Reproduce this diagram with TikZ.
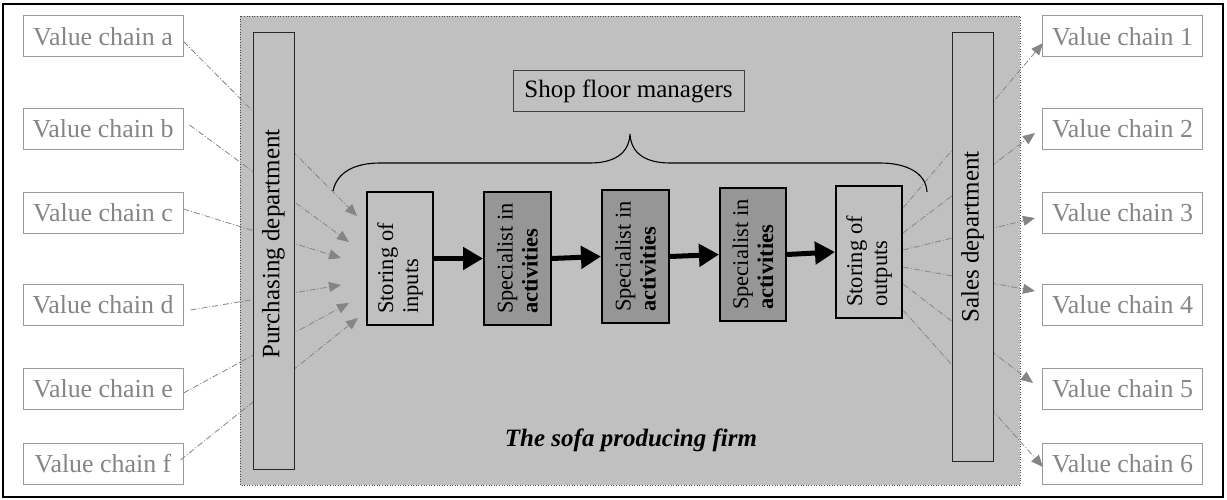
\documentclass[tikz,border=0pt]{standalone}
\usepackage{fontspec}
\setmainfont{Liberation Serif}
\usetikzlibrary{arrows.meta,calc}
\definecolor{firmbg}{HTML}{C0C0C0}
\definecolor{specfill}{HTML}{969696}
\definecolor{vcgray}{HTML}{858585}
\definecolor{vcborder}{HTML}{9A9A9A}
\begin{document}
\begin{tikzpicture}[x=1pt,y=-1pt,
  vc/.style={draw=vcborder, line width=1pt, fill=white, text=vcgray, minimum width=160pt, minimum height=41pt, inner sep=0pt, font=\fontsize{25.9}{30}\selectfont},
  deptbox/.style={draw=black!85, fill=firmbg, line width=1pt, inner sep=0pt},
  depttext/.style={rotate=90, inner sep=0pt, font=\fontsize{25}{30}\selectfont},
  stepbox/.style={draw=black, line width=2pt, inner sep=0pt, fill=firmbg},
  specbox/.style={stepbox, fill=specfill},
  boxtext/.style={rotate=90, anchor=west, align=left, inner sep=0pt, font=\fontsize{22.5}{25}\selectfont},
  link/.style={draw=vcgray, line width=0.8pt, dash pattern=on 6pt off 2pt on 1pt off 2pt, -{Triangle[length=12pt,width=10pt]}},
  flow/.style={line width=5pt, -{Triangle[length=20pt,width=22pt]}}
]
\useasboundingbox (0,0) rectangle (1227,500);
% outer frame
\draw[line width=1.5pt] (3,4) rectangle (1223,497);
% firm background
\fill[firmbg] (240,16) rectangle (1020,485);
\draw[black!70, line width=0.6pt, dotted] (240,16) rectangle (1020,485);

% value chain boxes left
\node[vc] (va) at (103,36.5) {Value chain a};
\node[vc] (vb) at (103,129) {Value chain b};
\node[vc] (vc) at (103,213) {Value chain c};
\node[vc] (vd) at (103,305) {Value chain d};
\node[vc] (ve) at (103,389) {Value chain e};
\node[vc] (vf) at (103,464) {Value chain f};
% value chain boxes right
\node[vc] (v1) at (1122.5,36.5) {Value chain 1};
\node[vc] (v2) at (1122.5,129) {Value chain 2};
\node[vc] (v3) at (1122.5,213) {Value chain 3};
\node[vc] (v4) at (1122.5,305) {Value chain 4};
\node[vc] (v5) at (1122.5,389) {Value chain 5};
\node[vc] (v6) at (1122.5,464) {Value chain 6};

% process boxes
\node[stepbox, minimum width=66pt, minimum height=133pt] (si) at (400,258.5) {};
\node[specbox, minimum width=67pt, minimum height=133pt] (s1) at (517.5,258.5) {};
\node[specbox, minimum width=67pt, minimum height=133pt] (s2) at (635.5,256.5) {};
\node[specbox, minimum width=66pt, minimum height=133pt] (s3) at (753,254.5) {};
\node[stepbox, minimum width=66pt, minimum height=132pt] (so) at (869,252) {};
\node[boxtext] (tsi) at ($(si.south)+(0,-12)$) {Storing of\\inputs};
\node[boxtext] (ts1) at ($(s1.south)+(0,-12)$) {Specialist in\\\textbf{activities}};
\node[boxtext] (ts2) at ($(s2.south)+(0,-12)$) {Specialist in\\\textbf{activities}};
\node[boxtext] (ts3) at ($(s3.south)+(0,-12)$) {Specialist in\\\textbf{activities}};
\node[boxtext] (tso) at ($(so.south)+(0,-12)$) {Storing of\\outputs};

% flow arrows
\draw[flow] (si.east) -- (s1.west);
\draw[flow] (s1.east) -- (s2.west);
\draw[flow] (s2.east) -- (s3.west);
\draw[flow] (s3.east) -- (so.west);

% tips of inbound links
\coordinate (ta) at (357,216);
\coordinate (tb) at (349,242);
\coordinate (tc) at (341,258);
\coordinate (td) at (341,285);
\coordinate (te) at (349,303);
\coordinate (tf) at (358,318);
\draw[link] ($(va.east)+(0,5)$) -- (ta);
\draw[link] ($(vb.east)+(6,-4)$) -- (tb);
\draw[link] ($(vc.east)+(0,-4)$) -- (tc);
\draw[link] ($(vd.east)+(7,5)$) -- (td);
\draw[link] ($(ve.east)+(0,4)$) -- (te);
\draw[link] ($(vf.east)+(-3,-4)$) -- (tf);

% tips of outbound links
\coordinate (t1) at (1043,43);
\coordinate (t2) at (1035,133);
\coordinate (t3) at (1035,218);
\coordinate (t4) at (1035,291);
\coordinate (t5) at (1033,383);
\coordinate (t6) at (1043,467);
\draw[link] ($(so.east)+(0,-44)$) -- (t1);
\draw[link] ($(so.east)+(0,-19)$) -- (t2);
\draw[link] ($(so.east)+(0,-2)$) -- (t3);
\draw[link] ($(so.east)+(0,15)$) -- (t4);
\draw[link] ($(so.east)+(0,32)$) -- (t5);
\draw[link] ($(so.east)+(0,58)$) -- (t6);

% departments
\node[deptbox, minimum width=41pt, minimum height=436pt] (pd) at (273.5,251) {};
\node[depttext] (pdt) at (273.5,244) {Purchasing department};
\node[deptbox, minimum width=41pt, minimum height=428pt] (sd) at (972.5,247) {};
\node[depttext] (sdt) at (972.5,237) {Sales department};

% shop floor managers
\node[draw=black!75, line width=1pt, fill=firmbg, minimum width=231pt, minimum height=41pt, inner sep=0pt, font=\fontsize{25}{30}\selectfont] (sfm) at (628.5,91.5) {Shop floor managers};
% brace
\draw[line width=1.1pt] (333,191) .. controls (337,172) and (355,163) .. (380,163) -- (590,163)
  .. controls (612,163) and (629,155) .. (630,134)
  .. controls (631,155) and (648,163) .. (670,163) -- (880,163)
  .. controls (905,163) and (926,172) .. (927,192);

% firm label
\node[anchor=base, inner sep=0pt, font=\fontsize{25}{30}\selectfont\bfseries\itshape] (firm) at (631,446) {The sofa producing firm};
\end{tikzpicture}
\end{document}
